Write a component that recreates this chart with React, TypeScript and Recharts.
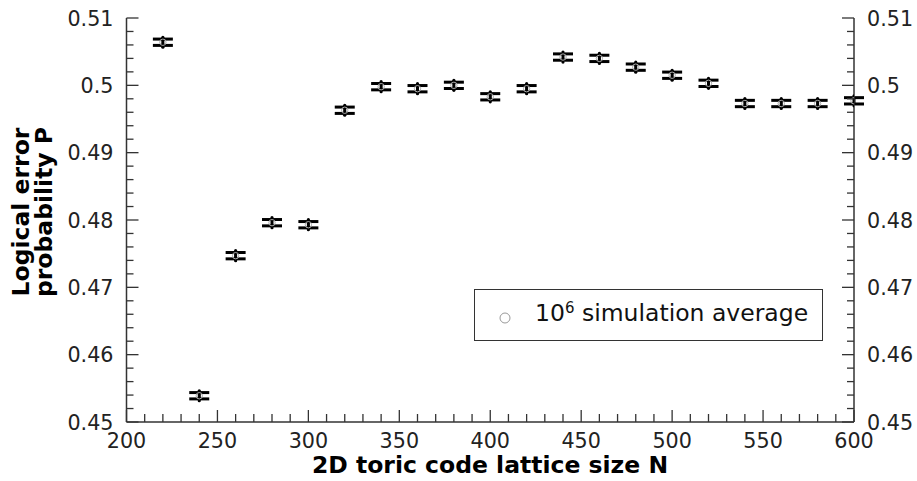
import { ScatterChart, Scatter, XAxis, YAxis, ErrorBar } from 'recharts';

const latticeSizes = [220, 240, 260, 280, 300, 320, 340, 360, 380, 400, 420, 440, 460, 480, 500, 520, 540, 560, 580, 600];
const errorProb = [0.5064, 0.4539, 0.4747, 0.4796, 0.4793, 0.4963, 0.4998, 0.4995, 0.5000, 0.4983, 0.4995, 0.5042, 0.5040, 0.5027, 0.5015, 0.5003, 0.4973, 0.4973, 0.4973, 0.4977];
const errorHalf = [0.00047, 0.00047, 0.00047, 0.00047, 0.00047, 0.00047, 0.00047, 0.00047, 0.00047, 0.00047, 0.00047, 0.00047, 0.00047, 0.00047, 0.00047, 0.00047, 0.00047, 0.00047, 0.00047, 0.00047];

const xTicks = [200, 210, 220, 230, 240, 250, 260, 270, 280, 290, 300, 310, 320, 330, 340, 350, 360, 370, 380, 390, 400, 410, 420, 430, 440, 450, 460, 470, 480, 490, 500, 510, 520, 530, 540, 550, 560, 570, 580, 590, 600];
const yTicks = [0.45, 0.452, 0.454, 0.456, 0.458, 0.46, 0.462, 0.464, 0.466, 0.468, 0.47, 0.472, 0.474, 0.476, 0.478, 0.48, 0.482, 0.484, 0.486, 0.488, 0.49, 0.492, 0.494, 0.496, 0.498, 0.5, 0.502, 0.504, 0.506, 0.508, 0.51];

const data = latticeSizes.map((n, i) => ({ n, p: errorProb[i], err: errorHalf[i] }));

const AXIS = '#333';
const FONT = 'DejaVu Sans, sans-serif';
const TICK_FS = 20.7;

const XTick = (props: any) => {
  const { x, y, payload } = props;
  const v = payload.value;
  const major = v % 50 === 0;
  return (
    <g>
      <line x1={x} x2={x} y1={y} y2={y - (major ? 12 : 8)} stroke={AXIS} strokeWidth={1.3} />
      {major && (
        <text x={x} y={y + 26} textAnchor="middle" fontSize={TICK_FS} fontFamily={FONT} fill="#222">
          {v}
        </text>
      )}
    </g>
  );
};

const isMajorY = (v: number) => Math.abs(v * 100 - Math.round(v * 100)) < 1e-6;
const fmtY = (v: number) => String(Math.round(v * 100) / 100);

const LeftTick = (props: any) => {
  const { x, y, payload } = props;
  const v = payload.value;
  const major = isMajorY(v);
  return (
    <g>
      <line x1={x} x2={x + (major ? 12 : 7)} y1={y} y2={y} stroke={AXIS} strokeWidth={1.3} />
      {major && (
        <text x={x - 13} y={y + 7.5} textAnchor="end" fontSize={TICK_FS} fontFamily={FONT} fill="#222">
          {fmtY(v)}
        </text>
      )}
    </g>
  );
};

const RightTick = (props: any) => {
  const { x, y, payload } = props;
  const v = payload.value;
  const major = isMajorY(v);
  return (
    <g>
      <line x1={x} x2={x - (major ? 12 : 7)} y1={y} y2={y} stroke={AXIS} strokeWidth={1.3} />
      {major && (
        <text x={x + 13} y={y + 7.5} textAnchor="start" fontSize={TICK_FS} fontFamily={FONT} fill="#222">
          {fmtY(v)}
        </text>
      )}
    </g>
  );
};

// marker: black stem with end dots, light open circle in the middle
const OpenDot = (props: any) => {
  const { cx, cy } = props;
  return (
    <g>
      <line x1={cx} x2={cx} y1={cy - 5} y2={cy + 5} stroke="#000" strokeWidth={2} />
      <circle cx={cx} cy={cy - 5} r={1.6} fill="#000" />
      <circle cx={cx} cy={cy + 5} r={1.6} fill="#000" />
      <circle cx={cx} cy={cy} r={3.2} fill="none" stroke="#aaa" strokeWidth={1} />
    </g>
  );
};

export default function App() {
  return (
    <div style={{ position: 'absolute', left: 0, top: 0, width: 917, height: 481, background: '#fff' }}>
      <ScatterChart width={917} height={481} margin={{ top: 18, right: 3, bottom: 29, left: 66.5 }}>
        <XAxis
          type="number"
          dataKey="n"
          domain={[200, 600]}
          ticks={xTicks}
          interval={0}
          height={30}
          tickSize={0}
          tickMargin={0}
          tick={<XTick />}
          axisLine={{ stroke: AXIS, strokeWidth: 1.5 }}
          allowDataOverflow
        />
        <YAxis
          yAxisId="left"
          type="number"
          dataKey="p"
          domain={[0.45, 0.51]}
          ticks={yTicks}
          interval={0}
          width={60}
          tickSize={0}
          tickMargin={0}
          tick={<LeftTick />}
          axisLine={{ stroke: AXIS, strokeWidth: 1.5 }}
          allowDataOverflow
        />
        <YAxis
          yAxisId="right"
          orientation="right"
          type="number"
          domain={[0.45, 0.51]}
          ticks={yTicks}
          interval={0}
          width={60}
          tickSize={0}
          tickMargin={0}
          tick={<RightTick />}
          axisLine={{ stroke: AXIS, strokeWidth: 1.5 }}
          allowDataOverflow
        />
        <Scatter yAxisId="left" data={data} shape={<OpenDot />} isAnimationActive={false}>
          <ErrorBar dataKey="err" direction="y" width={10} stroke="#000" strokeWidth={3} isAnimationActive={false} />
        </Scatter>
      </ScatterChart>

      {/* axis titles */}
      <div
        style={{
          position: 'absolute',
          left: 0,
          top: 454,
          width: 980,
          textAlign: 'center',
          fontFamily: FONT,
          fontWeight: 'bold',
          fontSize: 23.5,
          lineHeight: '22px',
          color: '#000',
          whiteSpace: 'nowrap',
        }}
      >
        2D toric code lattice size N
      </div>
      <div
        style={{
          position: 'absolute',
          left: 33,
          top: 212,
          transform: 'translate(-50%, -50%) rotate(-90deg)',
          fontFamily: FONT,
          fontWeight: 'bold',
          fontSize: 23.5,
          lineHeight: '23px',
          textAlign: 'center',
          whiteSpace: 'nowrap',
          color: '#000',
        }}
      >
        Logical error
        <br />
        probability P
      </div>

      {/* legend */}
      <div
        style={{
          position: 'absolute',
          left: 474,
          top: 289,
          width: 349,
          height: 52,
          boxSizing: 'border-box',
          border: '1.5px solid #333',
          background: '#fff',
          fontFamily: FONT,
          fontSize: 23.5,
          color: '#111',
        }}
      >
        <svg width={20} height={20} style={{ position: 'absolute', left: 20, top: 18 }}>
          <circle cx={10} cy={10} r={5} fill="#fff" stroke="#999" strokeWidth={1} />
        </svg>
        <span style={{ position: 'absolute', left: 60, top: 9, whiteSpace: 'nowrap', lineHeight: '28px' }}>
          10<sup style={{ fontSize: 15, verticalAlign: 'top', position: 'relative', top: -5 }}>6</sup> simulation average
        </span>
      </div>
    </div>
  );
}
